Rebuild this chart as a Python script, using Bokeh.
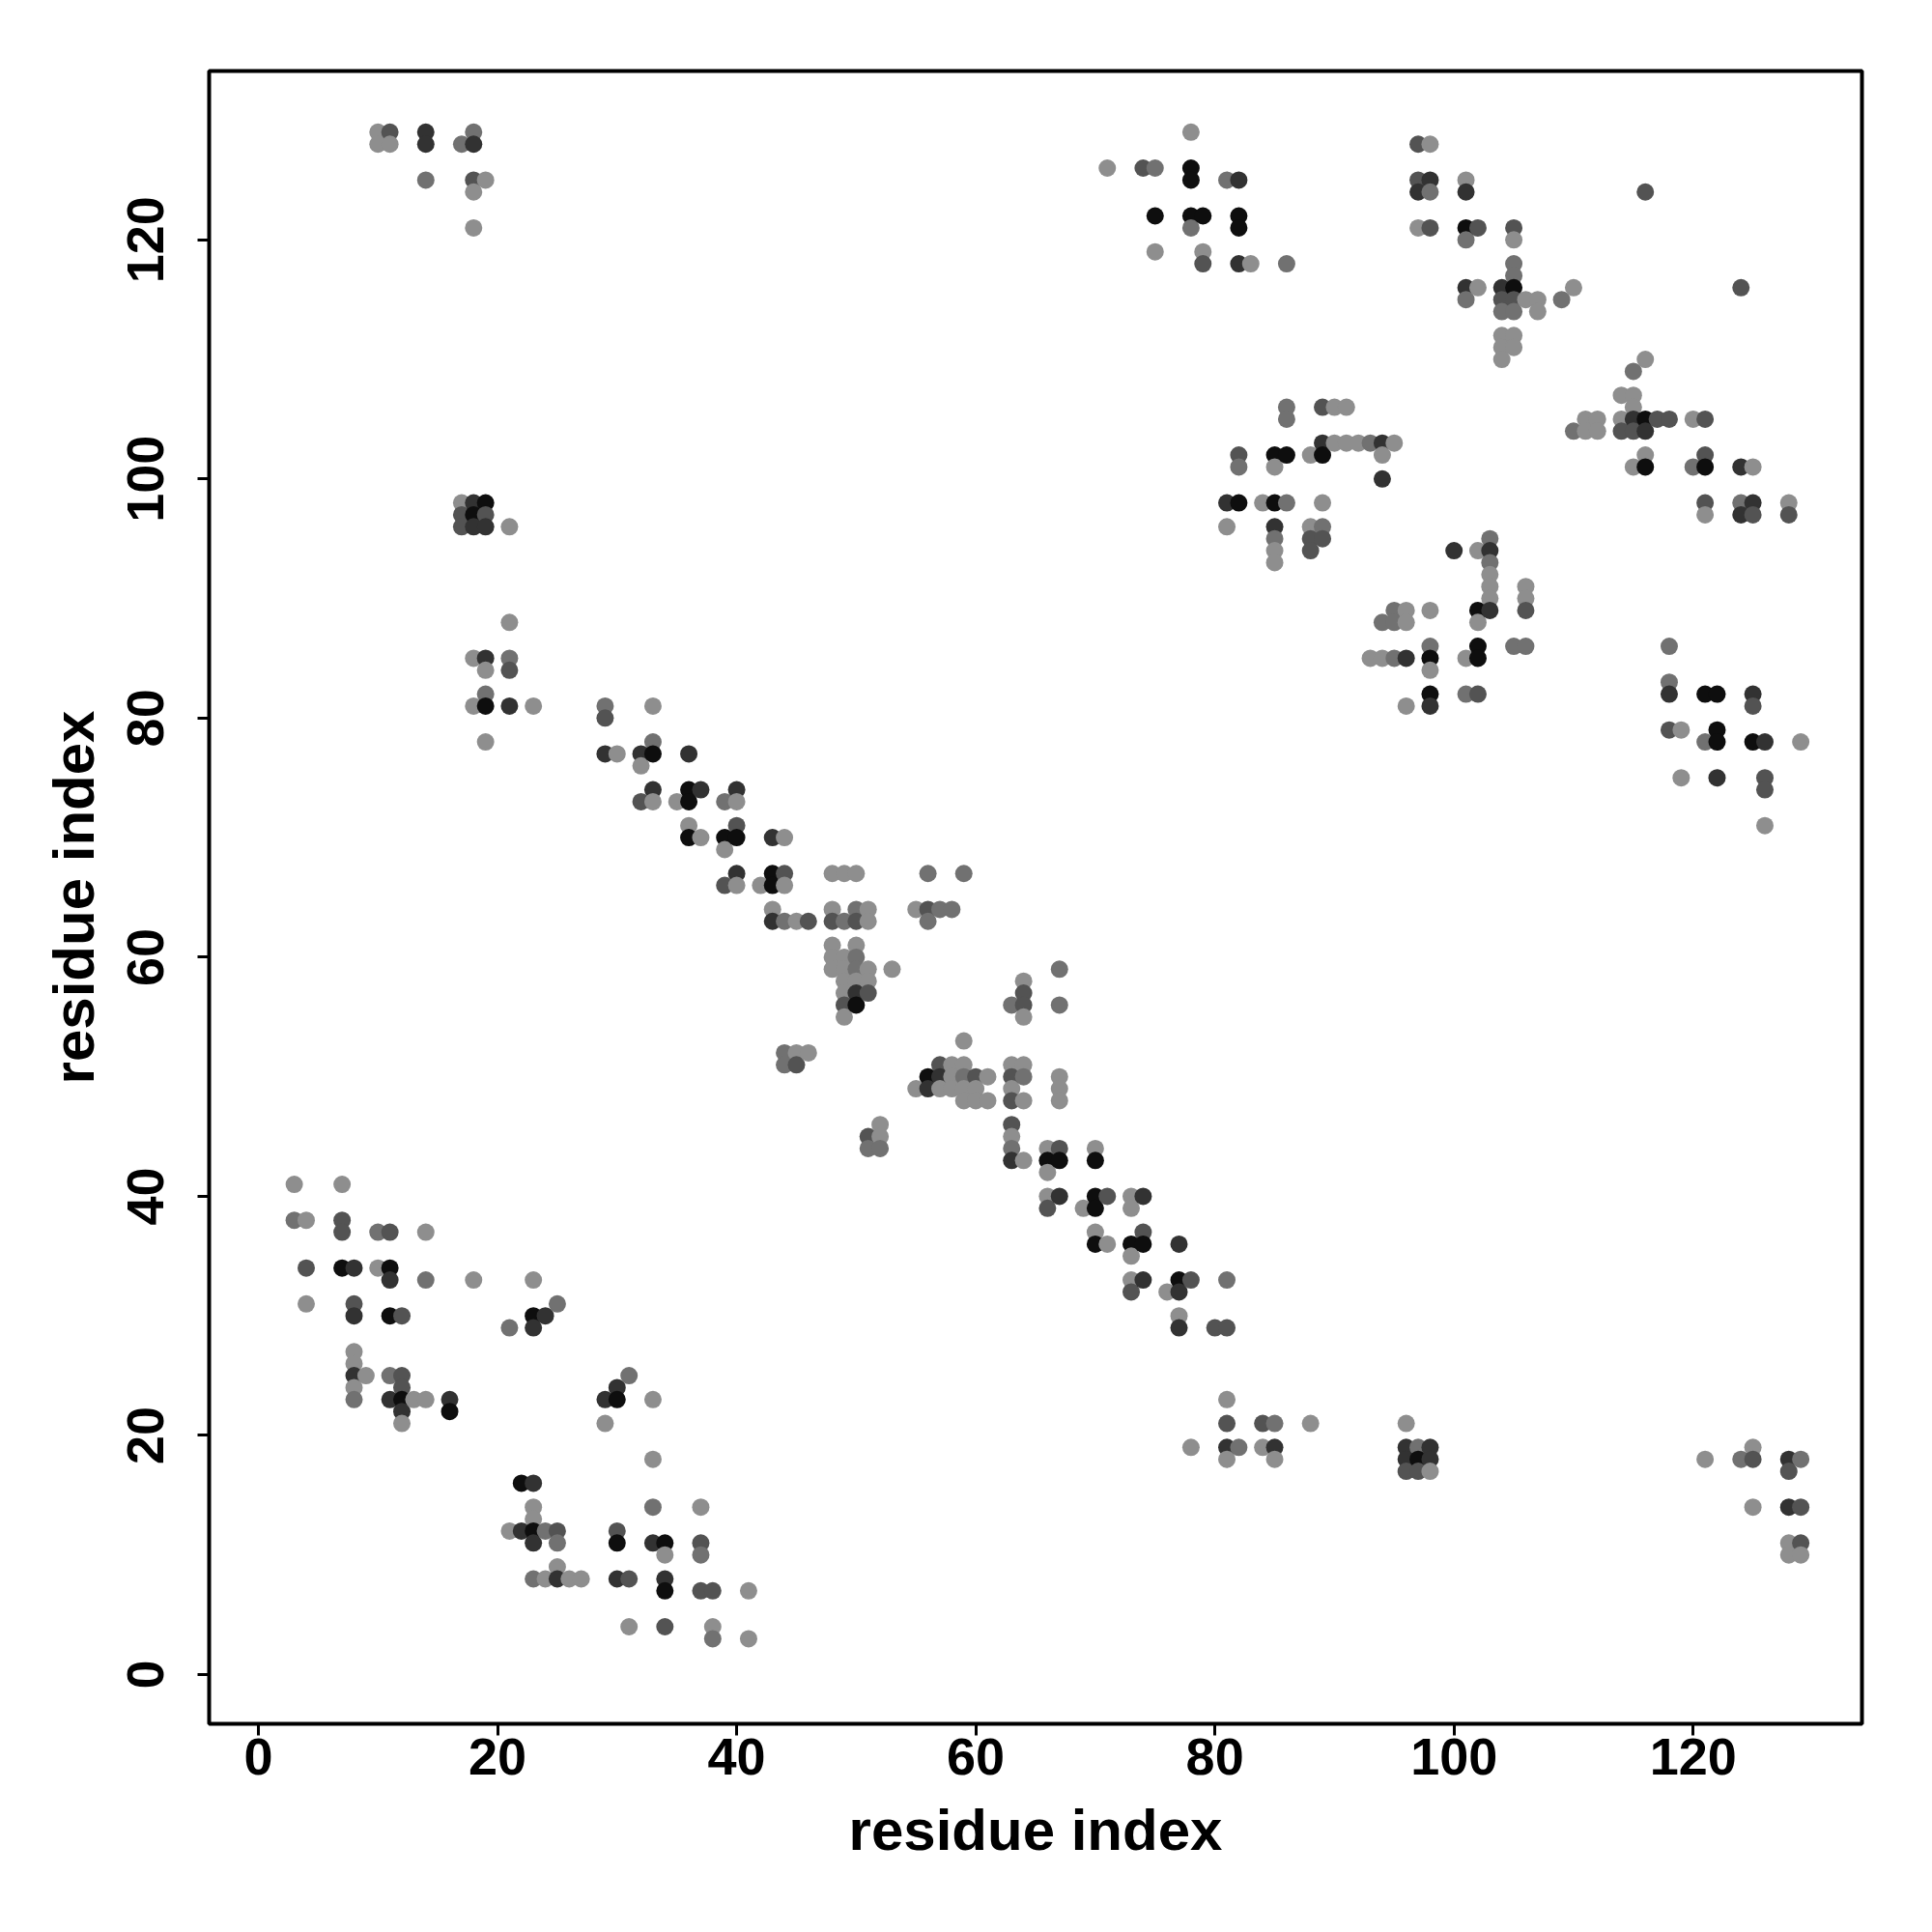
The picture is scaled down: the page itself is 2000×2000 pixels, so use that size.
import numpy as np
from bokeh.plotting import figure
from bokeh.models import Range1d, FixedTicker, ColumnDataSource
from bokeh.embed import file_html
from bokeh.resources import INLINE

# ---- contact data: (residue i, residue j, shade code) ----
top_left = [
    (10,129,'l'),(11,129,'m'),(14,129,'d'),(18,129,'g'),
    (10,128,'l'),(11,128,'l'),(14,128,'d'),(17,128,'g'),(18,128,'d'),
    (14,125,'g'),(18,125,'m'),(19,125,'l'),(18,124,'l'),(18,121,'l'),
    (17,98,'l'),(18,98,'d'),(19,98,'k'),(17,97,'m'),(18,97,'k'),(19,97,'m'),
    (17,96,'m'),(18,96,'d'),(19,96,'d'),(21,96,'l'),(21,88,'l'),
    (18,85,'l'),(19,85,'d'),(21,85,'g'),(19,84,'l'),(21,84,'m'),(19,82,'g'),
    (18,81,'l'),(19,81,'k'),(21,81,'d'),(23,81,'l'),(19,78,'l'),
]

top_right_a = [
    (78,129,'l'),(71,126,'l'),(74,126,'m'),(75,126,'g'),(78,126,'k'),
    (78,125,'k'),(81,125,'g'),(82,125,'d'),
    (97,128,'m'),(98,128,'l'),(97,125,'m'),(98,125,'d'),(97,124,'d'),(98,124,'g'),
    (97,121,'l'),(98,121,'m'),
    (75,122,'k'),(78,122,'k'),(79,122,'k'),(78,121,'g'),(82,122,'k'),(82,121,'k'),
    (75,119,'l'),(79,119,'l'),(79,118,'m'),(82,118,'d'),(83,118,'l'),(86,118,'g'),
    (86,106,'g'),(86,105,'g'),(89,106,'m'),(90,106,'l'),(91,106,'l'),
    (89,103,'d'),(90,103,'l'),(91,103,'l'),(92,103,'l'),(93,103,'g'),(94,103,'d'),(95,103,'l'),
    (82,102,'m'),(85,102,'k'),(86,102,'k'),(88,102,'l'),(89,102,'k'),(94,102,'l'),
]

top_right_b = [
    (82,101,'g'),(85,101,'l'),(94,100,'d'),
    (81,98,'d'),(82,98,'k'),(84,98,'l'),(85,98,'k'),(86,98,'g'),(89,98,'l'),
    (81,96,'l'),(85,96,'d'),(88,96,'l'),(89,96,'g'),
    (85,95,'g'),(88,95,'m'),(89,95,'m'),(85,94,'l'),(88,94,'m'),(85,93,'l'),
    (100,94,'d'),
    (95,89,'g'),(96,89,'l'),(98,89,'l'),(94,88,'g'),(95,88,'g'),(96,88,'l'),
    (93,85,'l'),(94,85,'l'),(95,85,'g'),(96,85,'d'),(98,85,'k'),
    (98,86,'g'),(98,84,'l'),(98,82,'k'),(96,81,'l'),(98,81,'d'),
]

top_right_c = [
    (101,125,'l'),(101,124,'d'),(116,124,'m'),
    (101,121,'k'),(102,121,'m'),(101,120,'g'),
    (105,121,'m'),(105,120,'l'),(105,118,'g'),(105,117,'g'),
    (101,116,'d'),(102,116,'l'),(101,115,'g'),(104,116,'d'),(105,116,'k'),
    (104,115,'m'),(105,115,'m'),(106,115,'l'),(107,115,'l'),
    (104,114,'g'),(105,114,'g'),(107,114,'l'),
    (109,115,'g'),(110,116,'l'),(124,116,'m'),
    (104,112,'l'),(105,112,'l'),(104,111,'l'),(105,111,'l'),(104,110,'l'),
    (116,110,'l'),(115,109,'g'),(114,107,'l'),(115,107,'l'),(115,106,'l'),
    (111,105,'l'),(112,105,'l'),(114,105,'l'),(115,105,'d'),(116,105,'k'),
    (117,105,'m'),(118,105,'m'),(120,105,'l'),(121,105,'m'),
    (110,104,'g'),(111,104,'l'),(112,104,'l'),(114,104,'m'),(115,104,'m'),(116,104,'d'),
    (116,102,'l'),(121,102,'m'),
]

top_right_d = [
    (115,101,'l'),(116,101,'k'),(120,101,'g'),(121,101,'k'),(124,101,'d'),(125,101,'l'),
    (121,98,'m'),(124,98,'g'),(125,98,'d'),(128,98,'l'),
    (121,97,'l'),(124,97,'d'),(125,97,'m'),(128,97,'m'),
    (103,95,'g'),(102,94,'l'),(103,94,'d'),(103,93,'g'),(103,92,'l'),
    (103,91,'l'),(106,91,'l'),(103,90,'l'),(106,90,'l'),
    (102,89,'k'),(103,89,'d'),(106,89,'m'),(102,88,'l'),
    (102,86,'k'),(105,86,'g'),(106,86,'g'),(101,85,'l'),(102,85,'k'),
    (101,82,'g'),(102,82,'m'),
    (118,86,'g'),(118,83,'g'),(118,82,'d'),(121,82,'k'),(122,82,'k'),(125,82,'d'),
    (125,81,'m'),(118,79,'m'),(119,79,'l'),(122,79,'k'),
    (121,78,'g'),(122,78,'k'),(125,78,'k'),(126,78,'d'),(129,78,'l'),
    (119,75,'l'),(122,75,'d'),(126,75,'m'),(126,74,'m'),(126,71,'l'),
]

diagonal_a = [
    (29,81,'g'),(29,80,'m'),(33,81,'l'),
    (29,77,'d'),(30,77,'l'),(32,77,'d'),(33,77,'k'),(36,77,'d'),
    (33,78,'g'),(32,76,'l'),
    (33,74,'d'),(36,74,'k'),(37,74,'d'),(40,74,'d'),
    (32,73,'m'),(33,73,'l'),(35,73,'l'),(36,73,'k'),(39,73,'g'),(40,73,'l'),
    (36,71,'l'),(40,71,'m'),
    (36,70,'k'),(37,70,'l'),(39,70,'k'),(40,70,'k'),(43,70,'d'),(44,70,'l'),
    (39,69,'l'),
    (40,67,'d'),(43,67,'k'),(44,67,'m'),(48,67,'l'),(49,67,'l'),(50,67,'l'),
    (39,66,'m'),(40,66,'l'),(42,66,'l'),(43,66,'k'),(44,66,'l'),
    (43,64,'l'),(48,64,'l'),(50,64,'g'),(51,64,'l'),(55,64,'l'),
    (43,63,'d'),(44,63,'g'),(45,63,'l'),(46,63,'m'),(48,63,'m'),(49,63,'g'),(50,63,'m'),(51,63,'l'),
    (48,61,'l'),(50,61,'l'),(48,60,'l'),(49,60,'l'),(50,60,'g'),
    (48,59,'l'),(49,59,'l'),(50,59,'g'),(51,59,'l'),(53,59,'l'),
    (49,58,'l'),(50,58,'l'),(51,58,'l'),(49,57,'l'),(50,57,'d'),(51,57,'m'),
    (49,56,'m'),(50,56,'k'),(49,55,'l'),
]

diagonal_b = [
    (56,67,'g'),(59,67,'g'),(56,64,'m'),(57,64,'g'),(58,64,'g'),(56,63,'g'),
    (67,59,'g'),(64,58,'l'),(64,57,'m'),(63,56,'g'),(64,56,'m'),(67,56,'g'),(64,55,'l'),
    (44,52,'g'),(45,52,'l'),(46,52,'l'),(44,51,'g'),(45,51,'m'),
    (55,49,'l'),(52,46,'l'),(51,45,'m'),(52,45,'l'),(51,44,'g'),(52,44,'g'),
    (59,53,'l'),
    (57,51,'m'),(58,51,'l'),(59,51,'l'),(63,51,'l'),(64,51,'l'),
    (56,50,'k'),(57,50,'d'),(58,50,'l'),(59,50,'g'),(60,50,'m'),(61,50,'l'),(63,50,'m'),(64,50,'g'),(67,50,'l'),
    (56,49,'d'),(57,49,'l'),(58,49,'l'),(59,49,'l'),(60,49,'l'),(63,49,'l'),(67,49,'l'),
    (59,48,'l'),(60,48,'l'),(61,48,'l'),(63,48,'m'),(64,48,'l'),(67,48,'l'),
    (63,46,'m'),(63,45,'l'),
    (63,44,'g'),(66,44,'l'),(67,44,'m'),(70,44,'l'),
    (63,43,'d'),(64,43,'l'),(66,43,'k'),(67,43,'k'),(70,43,'k'),(66,42,'l'),
    (66,40,'l'),(67,40,'d'),(70,40,'k'),(71,40,'m'),(73,40,'l'),(74,40,'d'),
    (66,39,'m'),(69,39,'l'),(70,39,'k'),(73,39,'l'),
    (70,37,'l'),(74,37,'m'),
    (70,36,'k'),(71,36,'l'),(73,36,'k'),(74,36,'k'),(77,36,'d'),(73,35,'l'),
    (73,33,'l'),(74,33,'d'),(77,33,'k'),(78,33,'m'),(81,33,'g'),
    (73,32,'m'),(76,32,'l'),(77,32,'d'),(77,30,'l'),
    (77,29,'d'),(80,29,'m'),(81,29,'m'),
]

bottom_left = [
    (3,41,'l'),(7,41,'l'),(3,38,'g'),(4,38,'l'),(7,38,'m'),
    (7,37,'m'),(10,37,'g'),(11,37,'m'),(14,37,'l'),
    (4,34,'m'),(7,34,'k'),(8,34,'d'),(10,34,'l'),(11,34,'k'),
    (11,33,'d'),(14,33,'g'),(18,33,'l'),(23,33,'l'),
    (4,31,'l'),(8,31,'m'),(25,31,'g'),
    (8,30,'d'),(11,30,'k'),(12,30,'m'),(23,30,'k'),(24,30,'d'),
    (21,29,'g'),(23,29,'d'),(8,27,'l'),(8,26,'l'),
    (8,25,'d'),(9,25,'l'),(11,25,'g'),(12,25,'m'),(8,24,'l'),(12,24,'m'),
    (8,23,'g'),(11,23,'d'),(12,23,'k'),(13,23,'l'),(14,23,'l'),(16,23,'d'),
    (12,22,'d'),(16,22,'k'),(12,21,'l'),
    (31,25,'g'),(30,24,'d'),(29,23,'d'),(30,23,'k'),(33,23,'l'),(29,21,'l'),(33,18,'l'),
]

bottom_mid = [
    (22,16,'k'),(23,16,'d'),(23,14,'l'),(33,14,'g'),(37,14,'l'),(23,13,'l'),
    (21,12,'l'),(22,12,'d'),(23,12,'k'),(24,12,'g'),(25,12,'m'),(30,12,'m'),
    (23,11,'d'),(25,11,'g'),(30,11,'k'),(33,11,'d'),(34,11,'k'),(37,11,'m'),
    (34,10,'l'),(37,10,'g'),(25,9,'l'),
    (23,8,'g'),(24,8,'l'),(25,8,'d'),(26,8,'l'),(27,8,'l'),(30,8,'d'),(31,8,'m'),(34,8,'d'),
    (34,7,'k'),(37,7,'m'),(38,7,'m'),(41,7,'l'),
    (31,4,'l'),(34,4,'m'),(38,4,'l'),(38,3,'g'),(41,3,'l'),
]

bottom_right = [
    (81,23,'l'),(81,21,'m'),(84,21,'m'),(85,21,'g'),(88,21,'l'),(96,21,'l'),
    (78,19,'l'),(81,19,'d'),(82,19,'g'),(84,19,'l'),(85,19,'d'),(96,19,'d'),(97,19,'g'),(98,19,'d'),
    (81,18,'l'),(85,18,'l'),(96,18,'d'),(97,18,'k'),(98,18,'d'),
    (96,17,'m'),(97,17,'m'),(98,17,'l'),
    (125,19,'l'),(121,18,'l'),(124,18,'g'),(125,18,'m'),(128,18,'d'),(129,18,'g'),(128,17,'m'),
    (125,14,'l'),(128,14,'d'),(129,14,'m'),(128,11,'l'),(129,11,'m'),(128,10,'l'),(129,10,'l'),
]

x_ticks = [0, 20, 40, 60, 80, 100, 120]
y_ticks = [0, 20, 40, 60, 80, 100, 120]
shade_colors = {'k': '#0e0e0e', 'd': '#323232', 'm': '#535353', 'g': '#717171', 'l': '#8e8e8e'}

pts = top_left + top_right_a + top_right_b + top_right_c + top_right_d + \
      diagonal_a + diagonal_b + bottom_left + bottom_mid + bottom_right
xs = np.array([p[0] for p in pts], dtype=float)
ys = np.array([p[1] for p in pts], dtype=float)
cols = [shade_colors[p[2]] for p in pts]
order = np.lexsort((-ys, xs))
src = ColumnDataSource(dict(x=xs[order], y=ys[order], c=[cols[i] for i in order]))

FONT = "Liberation Sans"
p = figure(width=1979, height=1974, output_backend="svg", toolbar_location=None,
           x_range=Range1d(-4.12, 134.12), y_range=Range1d(-4.12, 134.12),
           min_border_left=216, min_border_right=52, min_border_top=73, min_border_bottom=190)
p.background_fill_color = "white"
p.border_fill_color = "white"
p.grid.visible = False
p.outline_line_color = "black"
p.outline_line_width = 4

p.scatter('x', 'y', source=src, size=18, fill_color='c', line_color=None)

for ax in (p.xaxis[0], p.yaxis[0]):
    ax.axis_line_color = None
    ax.major_tick_in = 0
    ax.major_tick_out = 12
    ax.major_tick_line_width = 3
    ax.minor_tick_line_color = None
    ax.major_label_text_font = FONT
    ax.major_label_text_font_style = "bold"
    ax.major_label_text_font_size = "54px"
    ax.major_label_text_color = "black"
    ax.axis_label = "residue index"
    ax.axis_label_text_font = FONT
    ax.axis_label_text_font_style = "bold"
    ax.axis_label_text_font_size = "60px"
    ax.axis_label_text_color = "black"

p.xaxis.ticker = FixedTicker(ticks=x_ticks)
p.yaxis.ticker = FixedTicker(ticks=y_ticks)
p.xaxis.major_label_standoff = 3
p.xaxis.axis_label_standoff = 21
p.yaxis.major_label_orientation = "vertical"
p.yaxis.major_label_standoff = 35
p.yaxis.axis_label_standoff = 20

open("out.html", "w").write(file_html(p, INLINE))
